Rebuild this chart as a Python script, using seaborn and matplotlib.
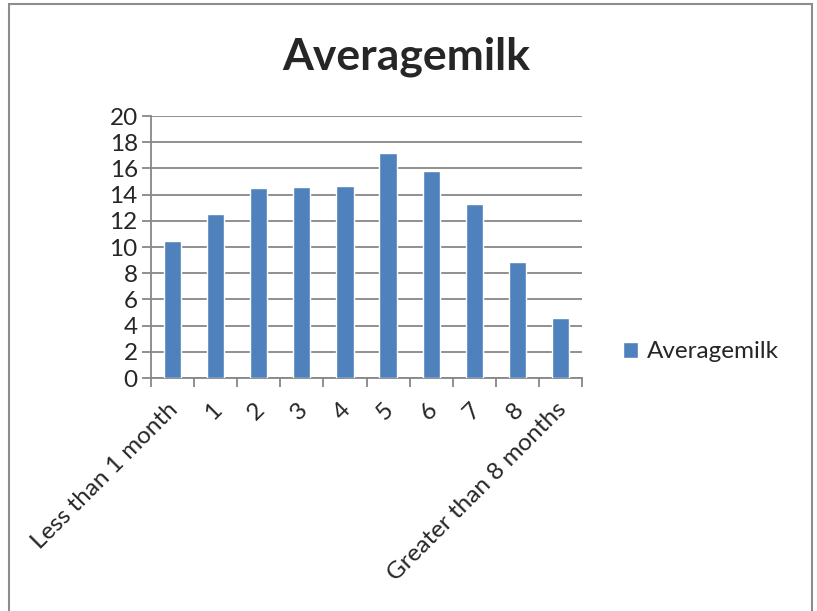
import matplotlib
matplotlib.use("Agg")
import matplotlib.pyplot as plt
import matplotlib.transforms as mtransforms
import seaborn as sns
import pandas as pd
from matplotlib.patches import Rectangle

# values
categories = ["Less than 1 month", "1", "2", "3", "4", "5", "6", "7", "8", "Greater than 8 months"]
averagemilk = [10.45, 12.5, 14.5, 14.57, 14.64, 17.17, 15.82, 13.32, 8.85, 4.62]
yticks = [0, 2, 4, 6, 8, 10, 12, 14, 16, 18, 20]

bar_color = "#4F81BD"
grid_color = "#878787"
label_size = 17.5

sns.set_style("white")
plt.rcParams['font.family'] = ['Lato', 'DejaVu Sans']

df = pd.DataFrame({"age": categories, "Averagemilk": averagemilk})

fig = plt.figure(figsize=(8.17, 6.11), dpi=100)
ax = fig.add_axes([0.1848, 0.3813, 0.5276, 0.4288])

sns.barplot(data=df, x="age", y="Averagemilk", color=bar_color, width=0.4,
            saturation=1, label="Averagemilk", ax=ax, zorder=3)

ax.set_xlim(-0.5, len(categories) - 0.5)
ax.set_ylim(0, 20)
ax.set_yticks(yticks)
ax.set_yticklabels([str(t) for t in yticks], fontsize=label_size)
ax.yaxis.grid(True, color=grid_color, linewidth=1.3, zorder=0)
ax.set_axisbelow(True)
ax.set_xlabel("")
ax.set_ylabel("")

for side in ["top", "right"]:
    ax.spines[side].set_visible(False)
for side in ["left", "bottom"]:
    ax.spines[side].set_color(grid_color)
    ax.spines[side].set_linewidth(1.3)

# y ticks point left, x ticks sit on category boundaries
ax.tick_params(axis="y", direction="out", length=6.5, width=1.3, color=grid_color, left=True, pad=3)
ax.set_xticks(range(len(categories)))
ax.set_xticklabels(categories, rotation=45, ha="right", va="top",
                   rotation_mode="anchor", fontsize=label_size)
ax.tick_params(axis="x", which="major", length=0, pad=15)
ax.set_xticks([i - 0.5 for i in range(len(categories) + 1)], minor=True)
ax.tick_params(axis="x", which="minor", direction="out", length=6.5, width=1.3,
               color=grid_color, bottom=True)

# nudge the rotated labels a little to the left
shift = mtransforms.ScaledTranslation(-5 / 100, 0, fig.dpi_scale_trans)
for lbl in ax.get_xticklabels():
    lbl.set_transform(lbl.get_transform() + shift)

# title is centred on the whole chart, not on the plot area
fig.text(406 / 817, 1 - 57 / 611, "Averagemilk", fontsize=32, fontweight="bold",
         ha="center", va="center")

ax.legend(loc="center left", bbox_to_anchor=(1.072, 0.1), frameon=False,
          fontsize=label_size, handlelength=0.63, handleheight=0.63,
          handletextpad=0.35, borderaxespad=0)

# outer chart border
fig.patches.append(Rectangle((9 / 817, -0.01), 803 / 817, 1 - 4 / 611 + 0.01,
                             transform=fig.transFigure, fill=False,
                             edgecolor="#8C8C8C", linewidth=1.5))

fig.savefig("out.png", dpi=100)
